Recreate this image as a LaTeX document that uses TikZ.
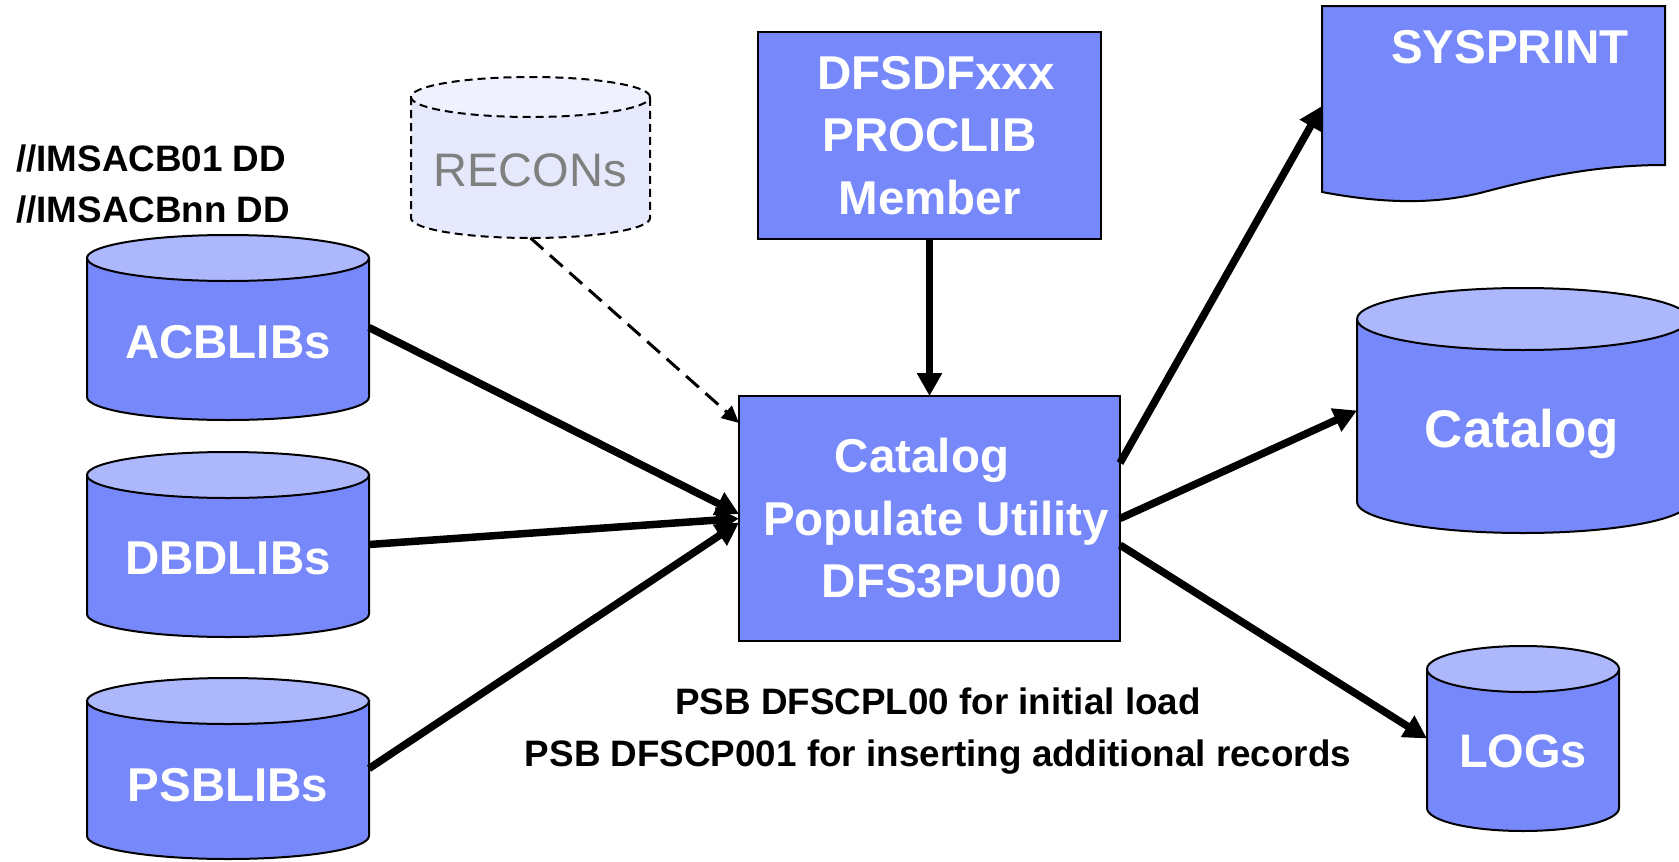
\documentclass[tikz,border=0pt]{standalone}
\usepackage{fontspec}
\setmainfont{Liberation Sans}
\usetikzlibrary{arrows.meta}
\definecolor{bodyblue}{RGB}{119,137,250}
\definecolor{topblue}{RGB}{172,183,252}
\definecolor{reconfill}{RGB}{230,232,252}
\definecolor{recontop}{RGB}{239,241,254}
\definecolor{recontext}{RGB}{128,128,128}
% cylinder: #1 cx, #2 top-ellipse centre y, #3 bottom-arc centre y, #4 rx, #5 ry, #6 body style, #7 top style
\newcommand\mycyl[7]{%
  \path[#6] ({#1-#4},#2) -- ({#1-#4},#3)
     arc[start angle=180,end angle=360,x radius=#4,y radius=#5] -- ({#1+#4},#2) -- cycle;
  \path[#7] (#1,#2) ellipse[x radius=#4,y radius=#5];
}
\begin{document}
\begin{tikzpicture}[x=1pt,y=1pt,
  cylbody/.style={fill=bodyblue,draw=black,line width=2pt},
  cyltop/.style={fill=topblue,draw=black,line width=2pt},
  rbody/.style={fill=reconfill,draw=black,line width=2pt,dash pattern=on 8pt off 5pt},
  rtop/.style={fill=recontop,draw=black,line width=2pt,dash pattern=on 8pt off 5pt},
  anchorbox/.style={inner sep=0pt,outer sep=0pt,draw=none},
  whitetxt/.style={text=white,font=\fontsize{47.5}{62}\selectfont\bfseries,inner sep=0pt,anchor=base},
  procbox/.style={fill=bodyblue,draw=black,line width=2pt,inner sep=0pt,outer sep=0pt,
     text=white,align=center,font=\fontsize{47.5}{62.5}\selectfont\bfseries},
  blacktxt/.style={font=\fontsize{36.8}{44}\selectfont\bfseries,inner sep=0pt},
  flow/.style={line width=7.5pt,-{Triangle[length=23pt,width=24pt]}},
  dflow/.style={line width=3pt,dash pattern=on 17pt off 9pt,-{Triangle[length=17pt,width=16pt]}}
]
\useasboundingbox (0,0) rectangle (1679,-862);

% ---- left cylinders ----
\mycyl{228}{-258}{-397}{141}{23}{cylbody}{cyltop}
\node[anchorbox,minimum width=282pt,minimum height=139pt] (acb) at (228,-327.5) {};
\node[whitetxt] (acbt) at (228,-358) {ACBLIBs};

\mycyl{228}{-475}{-614}{141}{23}{cylbody}{cyltop}
\node[anchorbox,minimum width=282pt,minimum height=139pt] (dbd) at (228,-544.5) {};
\node[whitetxt] (dbdt) at (228,-574) {DBDLIBs};

\mycyl{228}{-701}{-836}{141}{23}{cylbody}{cyltop}
\node[anchorbox,minimum width=282pt,minimum height=135pt] (psb) at (228,-768.5) {};
\node[whitetxt] (psbt) at (228,-801) {PSBLIBs};

% ---- DD statements ----
\node[blacktxt,anchor=base west] (dd1) at (16,-171) {//IMSACB01 DD};
\node[blacktxt,anchor=base west] (dd2) at (16,-222) {//IMSACBnn DD};

% ---- RECONs ----
\mycyl{530.5}{-97}{-218}{119.5}{20}{rbody}{rtop}
\node[anchorbox,minimum width=239pt,minimum height=121pt] (recon) at (530.5,-157.5) {};
\node[inner sep=0pt,anchor=base,text=recontext,font=\fontsize{47}{56}\selectfont] (recont) at (530,-186) {RECONs};

% ---- boxes ----
\node[procbox,minimum width=343pt,minimum height=207pt] (dfs) at (929.5,-135.5)
  {\hspace*{13pt}DFSDFxxx\\PROCLIB\hspace*{15pt}\\Member};
\node[procbox,minimum width=381pt,minimum height=245pt] (util) at (929.5,-518.5)
  {Catalog\hspace*{15pt}\\\hspace*{13pt}Populate Utility\\\hspace*{25pt}DFS3PU00};

% ---- SYSPRINT document ----
\path[fill=bodyblue,draw=black,line width=2pt]
  (1322,-6) -- (1665,-6) -- (1665,-165)
  .. controls (1590,-165) and (1530,-180) .. (1480,-193)
  .. controls (1435,-204) and (1385,-204) .. (1322,-192) -- cycle;
\node[anchorbox,minimum width=343pt,minimum height=186pt] (sys) at (1493.5,-99) {};
\node[whitetxt] (syst) at (1510,-63) {SYSPRINT};

% ---- right cylinders ----
\mycyl{1523}{-319}{-502}{166}{31}{cylbody}{cyltop}
\node[anchorbox,minimum width=332pt,minimum height=183pt] (cat) at (1523,-410.5) {};
\node[whitetxt,font=\fontsize{53}{62}\selectfont\bfseries] (catt) at (1522,-447) {Catalog};

\mycyl{1523}{-669}{-808}{96}{23}{cylbody}{cyltop}
\node[anchorbox,minimum width=192pt,minimum height=139pt] (logs) at (1523,-738.5) {};
\node[whitetxt,font=\fontsize{47}{62}\selectfont\bfseries] (logst) at (1523,-767) {LOGs};

% ---- bottom notes ----
\node[blacktxt,anchor=base] (n1) at (938,-714) {PSB DFSCPL00 for initial load};
\node[blacktxt,anchor=base] (n2) at (938,-766) {PSB DFSCP001 for inserting additional records};

% ---- connectors ----
\draw[flow] (acb.east) -- ([yshift=4.5pt]util.west);
\draw[flow] (dbd.east) -- (util.west);
\draw[flow] (psb.east) -- ([yshift=-4pt]util.west);
\draw[dflow] ([yshift=-20pt]recon.south) -- ([yshift=-27pt]util.north west);
\draw[flow] (dfs.south) -- (util.north);
\draw[flow] ([yshift=55.5pt]util.east) -- ([yshift=-7pt]sys.west);
\draw[flow] (util.east) -- (cat.west);
\draw[flow] ([yshift=-26.5pt]util.east) -- (logs.west);
\end{tikzpicture}
\end{document}
